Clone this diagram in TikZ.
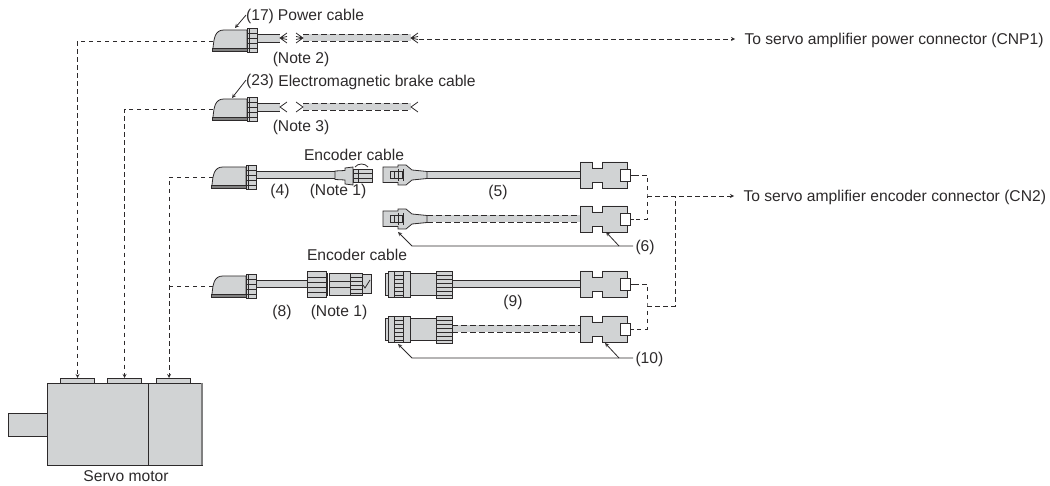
\documentclass[tikz,border=0pt]{standalone}
\usepackage{fontspec}
\setmainfont{Liberation Sans}
\usepackage{tikz}
\usetikzlibrary{arrows,calc,positioning}
\definecolor{partgray}{RGB}{209,211,212}
\definecolor{inkgray}{RGB}{45,42,43}
\newcommand{\cableline}[4]{%
  \fill[partgray] ([yshift=#4bp]#1) rectangle ([yshift=-#4bp]#2);
  \draw[#3] ([yshift=#4bp]#1) -- ([yshift=#4bp]#2);
  \draw[#3] ([yshift=-#4bp]#1) -- ([yshift=-#4bp]#2);}
\begin{document}
\begin{tikzpicture}[x=1bp, y=-1bp, line join=miter,
  every node/.style={font=\fontsize{15.7}{18}\selectfont, text=inkgray, inner sep=0pt, outer sep=0pt, text depth=0pt},
  part/.style={draw=inkgray, fill=partgray, line width=0.8bp},
  ink/.style={draw=inkgray, line width=0.8bp},
  box/.style={part, minimum width=#1},
  wire/.style={inkgray, line width=0.8bp},
  wiredash/.style={inkgray, line width=0.8bp, dash pattern=on 6bp off 3bp},
  route/.style={inkgray, line width=0.8bp, dash pattern=on 4.5bp off 3.5bp},
  arr/.style={route, ->, >=stealth},
  leader/.style={inkgray, line width=0.8bp, ->, >=stealth},
  side/.style={anchor=west, inner xsep=9.5bp},
  tag/.style={anchor=west, inner xsep=2.5bp},
  anglepic/.pic={
    \filldraw[part] (-44,10) .. controls (-43,0) and (-42,-8) .. (-33,-8) -- (-10,-8) -- (-10,12) -- (-44,12) -- cycle;
    \filldraw[draw=inkgray, fill=gray, line width=0.5bp] (-45,10.5) rectangle (-10,13);
    \filldraw[part] (-10,-10) rectangle (0,14);
    \foreach \ya in {-5,0,5,10} \draw[ink] (-10,\ya) -- (0,\ya);
    \draw[ink] (-8,-10) -- (-8,14);
  },
  fork3pic/.pic={\draw[ink] (7,-5) -- (0,0) -- (7,5) (0,0) -- (7,-1.5) (0,0) -- (7,1.5);},
  fork2pic/.pic={\draw[ink] (7,-5) -- (0,0) -- (7,5);},
  dsubpic/.pic={
    \filldraw[part] (0,-13) -- (12,-13) -- (12,-7) -- (22,-7) -- (22,-13) -- (47,-13) -- (47,-6) -- (40,-6)
      -- (40,6) -- (47,6) -- (47,13) -- (22,13) -- (22,7) -- (12,7) -- (12,13) -- (0,13) -- cycle;
    \filldraw[ink, fill=white] (40,-6) rectangle (50,6);
    \draw[inkgray, line width=1bp] (40,-6) -- (40,6);
    \draw[ink] (50,0) -- (54,0);
  },
  latchpic/.pic={
    \filldraw[part] (-44,-8) -- (-29,-8) -- (-29,-10) -- (-21,-10) -- (-15,-5) -- (0,-3.5) -- (0,3.5) -- (-15,5)
      -- (-21,10) -- (-29,10) -- (-29,7.5) -- (-44,7.5) -- cycle;
    \draw[ink] (-37,-4) rectangle (-25,3.5);
    \draw[ink] (-33,-4) -- (-33,3.5) (-29,-6) -- (-29,6) (-24,-6) -- (-24,6);
  },
  roundpic/.pic={
    \filldraw[part] (-67,-11) rectangle (-64,11);
    \filldraw[part] (-64,-13) rectangle (-42,13);
    \foreach \ya in {-9,-5,-1,3,7,11} \draw[ink] (-58,\ya) -- (-49,\ya);
    \draw[ink] (-58,-13) -- (-58,13) (-49,-13) -- (-49,13);
    \filldraw[part] (-42,-11) rectangle (-16,11);
    \filldraw[part] (-16,-13) rectangle (0,14);
    \foreach \ya in {-9,-5,-1,3,7,11} \draw[ink] (-16,\ya) -- (0,\ya);
  },
]
\useasboundingbox (0,0) rectangle (1050,486);

%% ── Servo motor ─────────────────────────────────────────────────────────
\node[box=39bp, minimum height=23bp]  (SH) at (27.5,424.5) {};
\node[box=101bp, minimum height=82bp] (M1) at (97.5,424)   {};
\node[box=54bp, minimum height=82bp]  (M2) at (175,424)    {};
\draw[gray, line width=1.2bp] (M2.north east) -- (M2.south east);
\node[box=34bp, minimum height=5bp]   (T1) at (77.5,380.5) {};
\node[box=34bp, minimum height=5bp]   (T2) at (124.5,380.5) {};
\node[box=34bp, minimum height=5bp]   (T3) at (173,380.5)  {};
\node (MT) at (126,476) {Servo motor};
\coordinate (T3in) at (169,378);

%% ── Power cable ─────────────────────────────────────────────────────────
\coordinate (P1) at (257,38);
\coordinate (P2) at (280,38);
\coordinate (P3) at (303,38);
\coordinate (P4) at (411,38);
\cableline{P1}{P2}{wire}{4}
\cableline{P3}{P4}{wiredash}{3.5}
\pic at (P1) {anglepic};
\pic at (P2) {fork3pic};
\pic[xscale=-1] at (P3) {fork3pic};
\pic at (P4) {fork3pic};
\node (N17) at (260,15)  {(17)};
\node (PC)  at (321,15)  {Power cable};
\node (N2)  at (301,58)  {(Note 2)};
\coordinate (A17) at (235,28);
\draw[leader] (N17.west) -- (A17);

%% ── Brake cable ─────────────────────────────────────────────────────────
\coordinate (B1) at (257,107);
\coordinate (B2) at (280,107);
\coordinate (B3) at (303,107);
\coordinate (B4) at (411,107);
\cableline{B1}{B2}{wire}{4}
\cableline{B3}{B4}{wiredash}{3.5}
\pic at (B1) {anglepic};
\pic at (B2) {fork2pic};
\pic[xscale=-1] at (B3) {fork2pic};
\pic at (B4) {fork2pic};
\node (N23) at (260,80)  {(23)};
\node (BC)  at (377,81)  {Electromagnetic brake cable};
\node (N3)  at (301,126) {(Note 3)};
\coordinate (A23) at (232,98);
\draw[leader] (N23.west) -- (A23);

%% ── Encoder cable, row (4)(5)(6) ────────────────────────────────────────
\coordinate (E1) at (256,175);
\coordinate (E2) at (335,175);
\cableline{E1}{E2}{wire}{3.5}
\pic at (E1) {anglepic};
\filldraw[part] (335,171) -- (345,170.5) -- (345,168) -- (353,167) -- (353,185) -- (345,184) -- (345,180) -- (335,179.5) -- cycle;
\filldraw[part] (353,169) rectangle (372,182);
\draw[ink] (353,173) -- (372,173) (353,178) -- (372,178) (358,169) -- (358,182);
\draw[ink] (355,167) .. controls (358,163) and (365,163) .. (368,167);
\node (EC1) at (354,155) {Encoder cable};
\node (N4)  at (280,190) {(4)};
\node (NN1) at (338,190) {(Note 1)};

\coordinate (C5)  at (427,175);
\coordinate (D5)  at (580,175);
\coordinate (C6)  at (427,219);
\coordinate (D6)  at (580,219);
\cableline{C5}{D5}{wire}{3.5}
\cableline{C6}{D6}{wiredash}{3.5}
\pic at (C5) {latchpic};
\pic at (C6) {latchpic};
\pic at (D5) {dsubpic};
\pic at (D6) {dsubpic};
\node (N5) at (498,191) {(5)};
\node[tag] (N6) at (633,246) {(6)};
\coordinate (K6) at (412,246);
\coordinate (A6) at (398,232);
\coordinate (L6) at (619,246);
\coordinate (R6) at (606,232);
\draw[leader] (N6.west) -- (K6) -- (A6);
\draw[leader] (L6) -- (R6);

%% ── Encoder cable, row (8)(9)(10) ───────────────────────────────────────
\coordinate (G1) at (256,284);
\coordinate (G2) at (307,284);
\cableline{G1}{G2}{wire}{3.5}
\pic at (G1) {anglepic};
\node[box=19bp, minimum height=26bp] (J1) at (316.5,284) {};
\foreach \ya in {277,282,287,292} \draw[ink] (J1.west |- 0,\ya) -- (J1.east |- 0,\ya);
\node[box=21bp, minimum height=22bp] (J2) at (339.5,284) {};
\draw[inkgray, line width=1.8bp] (327.5,273) -- (327.5,296);
\draw[ink] (J2.west |- 0,281) -- (J2.east |- 0,281) (J2.west |- 0,287) -- (J2.east |- 0,287);
\node[box=12bp, minimum height=22bp] (J3) at (356,284) {};
\foreach \ya in {277,281,285,289,293} \draw[ink] (J3.west |- 0,\ya) -- (J3.east |- 0,\ya);
\node[box=9bp, minimum height=19bp] (J4) at (366.5,284) {};
\draw[ink] (363,285) -- (365,288) -- (370,280);
\node (EC2) at (357,255) {Encoder cable};
\node (N8)  at (282,311) {(8)};
\node (NN2) at (339,311) {(Note 1)};

\coordinate (C9)  at (452,284);
\coordinate (D9)  at (580,284);
\coordinate (C10) at (452,329);
\coordinate (D10) at (580,329);
\cableline{C9}{D9}{wire}{3.5}
\cableline{C10}{D10}{wiredash}{3.5}
\pic at (C9)  {roundpic};
\pic at (C10) {roundpic};
\pic at (D9)  {dsubpic};
\pic at (D10) {dsubpic};
\node (N9) at (513,301) {(9)};
\node[tag] (N10) at (633,358) {(10)};
\coordinate (K10) at (412,358);
\coordinate (A10) at (398,344);
\coordinate (L10) at (619,358);
\coordinate (R10) at (605,343);
\draw[leader] (N10.west) -- (K10) -- (A10);
\draw[leader] (L10) -- (R10);

%% ── Dashed routes to the motor ──────────────────────────────────────────
\coordinate (R1) at (213,41);
\coordinate (R2) at (213,109);
\coordinate (R3) at (213,177);
\coordinate (R4) at (213,286);
\draw[arr] (R1) -| (T1.north);
\draw[arr] (R2) -| (T2.north);
\draw[arr] (R3) -| (T3in);
\draw[route] (R4) -- (R4 -| T3in);

%% ── Dashed routes to the amplifier ──────────────────────────────────────
\node[side] (CNP) at (735,39) {To servo amplifier power connector (CNP1)};
\node[side] (CN2) at (734,196) {To servo amplifier encoder connector (CN2)};
\coordinate (S4) at (419,39);
\draw[arr] (S4) -- (CNP.west);

\coordinate (S5)  at (634,175);
\coordinate (S6)  at (634,219);
\coordinate (S9)  at (634,284);
\coordinate (S10) at (634,329);
\coordinate (U1)  at (647,196);
\coordinate (U2)  at (647,306);
\coordinate (U3)  at (675,196);
\draw[route] (S5) -| (U1) |- (S6);
\draw[route] (S9) -| (U2) |- (S10);
\draw[arr] (U1) -- (CN2.west);
\draw[route] (U2) -| (U3);
\end{tikzpicture}
\end{document}
